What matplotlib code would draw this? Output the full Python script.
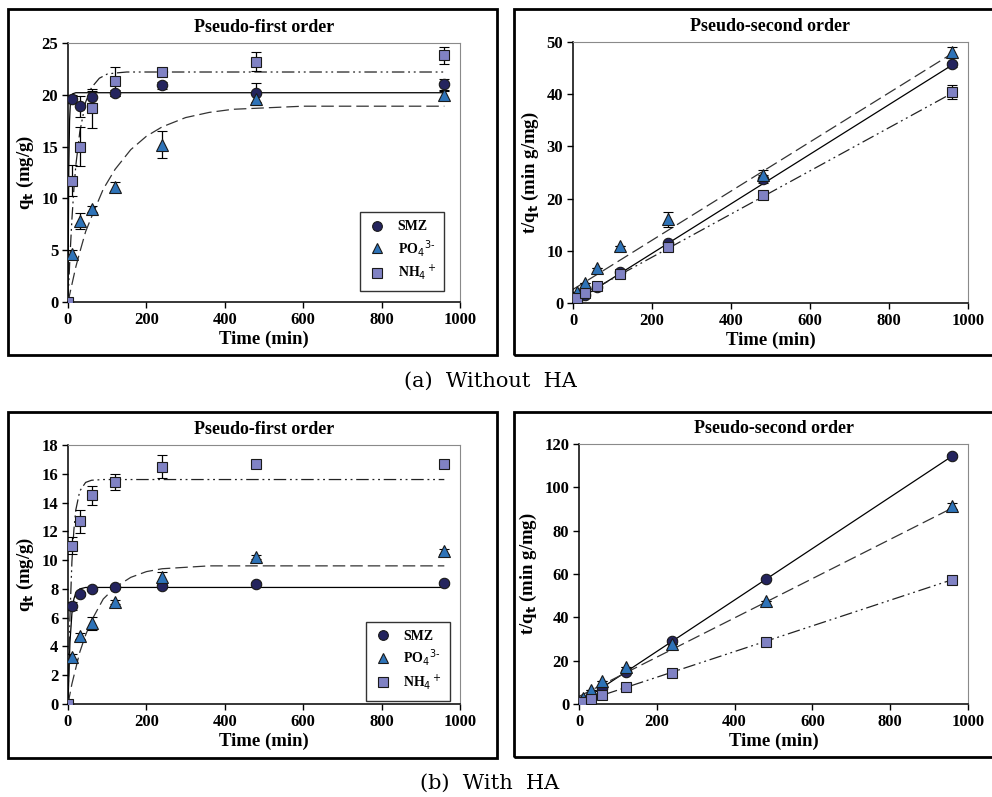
import matplotlib.pyplot as plt
from matplotlib.patches import Rectangle

plt.rcParams['font.family'] = ['Liberation Serif', 'DejaVu Serif']

# sampling times (min)
time = [0, 10, 30, 60, 120, 240, 480, 960]

# ---- (a) without HA : pseudo-first order, qt (mg/g)
a_smz = [0, 19.6, 18.9, 19.8, 20.2, 20.9, 20.2, 21.0]
a_smz_err = [0, 0.4, 1.0, 0.6, 0.3, 0.3, 0.9, 0.5]
a_po4 = [0, 4.6, 7.8, 9.0, 11.1, 15.2, 19.6, 20.0]
a_po4_err = [0, 0.4, 0.8, 0.3, 0.5, 1.3, 0.6, 0.4]
a_nh4 = [0, 11.7, 15.0, 18.7, 21.3, 22.2, 23.2, 23.8]
a_nh4_err = [0, 1.5, 1.9, 1.9, 1.4, 0.4, 0.9, 0.8]

# fitted curves
a_fit_smz_t = [0, 2, 4, 6, 8, 12, 20, 960]
a_fit_smz = [0, 12.8, 17.5, 19.2, 19.8, 20.1, 20.2, 20.2]
a_fit_po4_t = [0, 10, 20, 30, 45, 60, 90, 120, 160, 200, 240, 300, 360, 420, 480, 600, 960]
a_fit_po4 = [0, 1.7, 3.4, 4.8, 6.8, 8.2, 10.9, 12.8, 14.7, 16.0, 16.9, 17.8, 18.3, 18.6, 18.7, 18.9, 18.9]
a_fit_nh4_t = [0, 5, 10, 15, 20, 30, 45, 60, 80, 100, 120, 150, 960]
a_fit_nh4 = [0, 4.4, 8.0, 10.9, 13.2, 16.4, 19.3, 20.7, 21.6, 22.0, 22.1, 22.2, 22.2]

# (a) pseudo-second order, t/qt (min g/mg)
a2_smz = [0, 0.5, 1.6, 3.0, 5.9, 11.5, 23.8, 45.7]
a2_smz_err = [0, 0, 0, 0, 0, 0, 0.8, 0.4]
a2_po4 = [0, 2.2, 3.9, 6.7, 11.0, 16.0, 24.6, 48.0]
a2_po4_err = [0, 0, 0, 0, 0, 1.4, 0.8, 1.0]
a2_nh4 = [0, 0.9, 2.0, 3.2, 5.6, 10.8, 20.7, 40.4]
a2_nh4_err = [0, 0, 0, 0, 0, 0, 0, 1.3]
a2_line_t = [0, 960]
a2_line_smz = [0.0, 45.6]
a2_line_po4 = [2.6, 47.8]
a2_line_nh4 = [0.5, 40.2]

# ---- (b) with HA : pseudo-first order
b_smz = [0, 6.8, 7.65, 8.0, 8.15, 8.2, 8.35, 8.4]
b_smz_err = [0, 0.3, 0.15, 0.15, 0.15, 0.15, 0.1, 0.1]
b_po4 = [0, 3.3, 4.7, 5.6, 7.1, 8.8, 10.2, 10.6]
b_po4_err = [0, 0.15, 0.2, 0.45, 0.15, 0.4, 0.15, 0.2]
b_nh4 = [0, 11.0, 12.7, 14.5, 15.4, 16.5, 16.7, 16.7]
b_nh4_err = [0, 0.6, 0.8, 0.65, 0.55, 0.8, 0.1, 0.1]

b_fit_smz_t = [0, 5, 10, 15, 20, 30, 45, 960]
b_fit_smz = [0, 4.3, 6.3, 7.3, 7.7, 8.0, 8.1, 8.1]
b_fit_po4_t = [0, 10, 20, 30, 45, 60, 90, 120, 160, 200, 240, 300, 360, 960]
b_fit_po4 = [0, 1.4, 2.5, 3.6, 4.8, 5.8, 7.3, 8.1, 8.8, 9.2, 9.4, 9.5, 9.6, 9.6]
b_fit_nh4_t = [0, 5, 10, 15, 20, 30, 45, 60, 90, 960]
b_fit_nh4 = [0, 6.1, 9.9, 12.1, 13.5, 14.8, 15.4, 15.55, 15.6, 15.6]

# (b) pseudo-second order
b2_smz = [0, 1.5, 3.9, 7.5, 14.8, 29.2, 57.7, 114.6]
b2_smz_err = [0, 0, 0, 0, 0, 0.8, 0.5, 0.6]
b2_po4 = [0, 3.0, 6.4, 10.7, 17.0, 27.5, 47.7, 91.5]
b2_po4_err = [0, 0, 0, 0, 0, 0, 0, 1.5]
b2_nh4 = [0, 0.9, 2.4, 4.1, 7.8, 14.5, 28.7, 57.4]
b2_nh4_err = [0, 0, 0, 0, 0, 0, 0, 0.4]
b2_line_t = [0, 960]
b2_line_smz = [0.5, 114.5]
b2_line_po4 = [3.5, 90.5]
b2_line_nh4 = [0.5, 57.4]

names = ['SMZ', r'PO$_4$$^{3\text{-}}$', r'NH$_4$$^+$']
colors = ['#24245e', '#2e73b8', '#8082c4']
markers = ['o', '^', 's']
styles = ['-', (0, (10, 4)), (0, (10, 3, 1.5, 3, 1.5, 3))]
line_colors = ['black', '#333333', '#222222']

W, H = 992, 797
fig = plt.figure(figsize=(W / 100, H / 100), dpi=100)


def px_axes(x0, y0, x1, y1):
    return fig.add_axes([x0 / W, 1 - y1 / H, (x1 - x0) / W, (y1 - y0) / H])


def frame(x0, y0, x1, y1):
    fig.patches.append(Rectangle((x0 / W, 1 - y1 / H), (x1 - x0) / W, (y1 - y0) / H,
                                 transform=fig.transFigure, fill=False,
                                 edgecolor='black', linewidth=2))


def style_axes(ax, title, ylabel, ymax, ystep):
    ax.set_xlim(0, 1000)
    ax.set_ylim(0, ymax)
    ax.set_xticks(range(0, 1001, 200))
    ax.set_yticks(range(0, ymax + 1, ystep))
    ax.tick_params(direction='out', length=4, width=1, labelsize=12, pad=3)
    for lab in ax.get_xticklabels() + ax.get_yticklabels():
        lab.set_fontweight('bold')
    for s in ['top', 'right']:
        ax.spines[s].set_color('#8a8a8a')
    for s in ['left', 'bottom']:
        ax.spines[s].set_linewidth(1.1)
    ax.set_title(title, fontsize=13, fontweight='bold', pad=8)
    ax.set_xlabel('Time (min)', fontsize=13.5, fontweight='bold', labelpad=2)
    ax.set_ylabel(ylabel, fontsize=13.5, fontweight='bold', labelpad=4)


def scatter(ax, ys, errs):
    for y, e, c, m, n in zip(ys, errs, colors, markers, names):
        ax.errorbar(time, y, yerr=e, fmt=m, ms=7.5 if m != '^' else 8.5,
                    mfc=c, mec='#1a1a1a', mew=0.8, ecolor='black', elinewidth=0.9,
                    capsize=3.5, capthick=0.9, label=n, zorder=3)


def fits(ax, curves):
    for (t, y), ls, lc in zip(curves, styles, line_colors):
        ax.plot(t, y, color=lc, lw=0.9, linestyle=ls, zorder=2)


def legend(ax, loc):
    hs = [plt.Line2D([], [], marker=m, ls='none', ms=7, mfc=c, mec='#1a1a1a', mew=0.8)
          for m, c in zip(markers, colors)]
    lg = ax.legend(hs, names, loc='upper left', bbox_to_anchor=loc, borderaxespad=0,
                   frameon=True, fancybox=False, edgecolor='black',
                   handletextpad=0.9, handlelength=1.2,
                   borderpad=0.6, labelspacing=0.3,
                   prop={'weight': 'bold', 'size': 10})
    lg.get_frame().set_linewidth(1.0)


# (a) pseudo-first
frame(8, 9, 497, 355)
ax = px_axes(68, 43, 460, 302)
fits(ax, [(a_fit_smz_t, a_fit_smz), (a_fit_po4_t, a_fit_po4), (a_fit_nh4_t, a_fit_nh4)])
scatter(ax, [a_smz, a_po4, a_nh4], [a_smz_err, a_po4_err, a_nh4_err])
style_axes(ax, 'Pseudo-first order', r'q$_\mathbf{t}$ (mg/g)', 25, 5)
legend(ax, (0.745, 0.347))

# (a) pseudo-second
frame(514, 9, 1000, 355)
ax = px_axes(573, 42, 968, 303)
fits(ax, [(a2_line_t, a2_line_smz), (a2_line_t, a2_line_po4), (a2_line_t, a2_line_nh4)])
scatter(ax, [a2_smz, a2_po4, a2_nh4], [a2_smz_err, a2_po4_err, a2_nh4_err])
style_axes(ax, 'Pseudo-second order', r't/q$_\mathbf{t}$ (min g/mg)', 50, 10)

fig.text(490 / W, 1 - 381 / H, '(a)  Without  HA', ha='center', va='center',
         fontsize=15, family=['DejaVu Serif'])

# (b) pseudo-first
frame(8, 412, 497, 758)
ax = px_axes(68, 445, 460, 704)
fits(ax, [(b_fit_smz_t, b_fit_smz), (b_fit_po4_t, b_fit_po4), (b_fit_nh4_t, b_fit_nh4)])
scatter(ax, [b_smz, b_po4, b_nh4], [b_smz_err, b_po4_err, b_nh4_err])
style_axes(ax, 'Pseudo-first order', r'q$_\mathbf{t}$ (mg/g)', 18, 2)
legend(ax, (0.760, 0.317))

# (b) pseudo-second
frame(514, 412, 1000, 757)
ax = px_axes(579, 444, 968, 704)
fits(ax, [(b2_line_t, b2_line_smz), (b2_line_t, b2_line_po4), (b2_line_t, b2_line_nh4)])
scatter(ax, [b2_smz, b2_po4, b2_nh4], [b2_smz_err, b2_po4_err, b2_nh4_err])
style_axes(ax, 'Pseudo-second order', r't/q$_\mathbf{t}$ (min g/mg)', 120, 20)

fig.text(490 / W, 1 - 783 / H, '(b)  With  HA', ha='center', va='center',
         fontsize=15, family=['DejaVu Serif'])

fig.savefig('out.png', dpi=100)
